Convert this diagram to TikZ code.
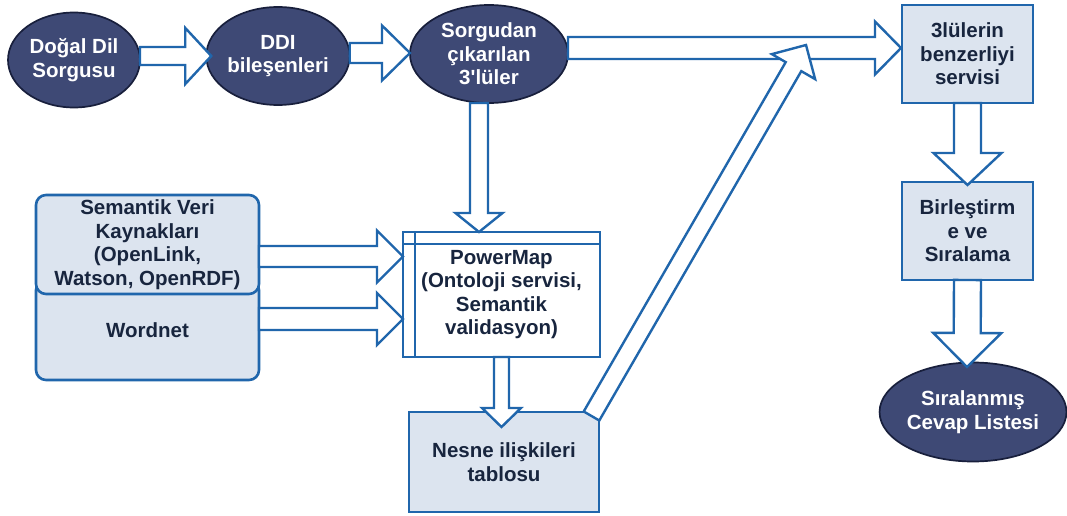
\documentclass[tikz,border=0pt]{standalone}
\usepackage{fontspec}
\setmainfont{Liberation Sans}
\usetikzlibrary{shapes.geometric,calc}

\definecolor{lineblue}{RGB}{32,102,172}
\definecolor{boxfill}{RGB}{220,228,239}
\definecolor{ovalfill}{RGB}{62,73,117}
\definecolor{ovalline}{RGB}{24,31,60}
\definecolor{textnavy}{RGB}{24,37,62}

% Hollow block arrow: {from}{to}{shaft half-width}{head half-width}{head length}
\newcommand\blockarrow[5]{%
  \coordinate (ba-s) at (#1);
  \coordinate (ba-e) at (#2);
  \coordinate (ba-n) at ($(ba-e)!#5!(ba-s)$);
  \draw[fatarrow] ($(ba-s)!#3!90:(ba-e)$) -- ($(ba-n)!#3!90:(ba-e)$)
    -- ($(ba-n)!#4!90:(ba-e)$) -- (ba-e) -- ($(ba-n)!#4!-90:(ba-e)$)
    -- ($(ba-n)!#3!-90:(ba-e)$) -- ($(ba-s)!#3!-90:(ba-e)$) -- cycle;
}

\tikzset{
  labelfont/.style={font=\fontsize{20.5}{23.5}\selectfont\bfseries},
  oval/.style={ellipse, draw=ovalline, line width=1.7pt, fill=ovalfill,
    text=white, inner sep=0pt, outer sep=0pt, align=center, labelfont},
  box/.style={rectangle, draw=lineblue, line width=2.6pt, fill=boxfill,
    text=textnavy, inner sep=0pt, outer sep=0pt, align=center, labelfont},
  roundbox/.style={box, rounded corners=10pt},
  fatarrow/.style={draw=lineblue, line width=2.4pt, fill=white, line join=miter}
}

\begin{document}
\begin{tikzpicture}[x=1pt, y=-1pt]
\path[use as bounding box, fill=white] (0,0) rectangle (1067,516);

% query side
\node[oval, minimum width=132pt, minimum height=95pt] (e1) at (74,60) {Doğal Dil\\Sorgusu};
\node[oval, minimum width=130pt, minimum height=98pt] (e2) at (278,56) {DDI\\bileşenleri};
\node[oval, minimum width=158pt, minimum height=98pt] (e3) at (489,54)
  {Sorgudan\\çıkarılan\\3\textquotesingle lüler};

% semantic sources
\node[roundbox, minimum width=223pt, minimum height=100pt] (word) at (147.5,330) {Wordnet};
\node[roundbox, minimum width=223pt, minimum height=99pt] (sem) at (147.5,244.5)
  {Semantik Veri\\Kaynakları\\(OpenLink,\\Watson, OpenRDF)};

% PowerMap with its header and side strips
\node[box, fill=white, minimum width=197pt, minimum height=125pt] (pm) at (501.5,294.5)
  {PowerMap\\(Ontoloji servisi,\\Semantik\\validasyon)};
\draw[lineblue, line width=2.4pt] ($(pm.north west)+(12,0)$) -- ($(pm.south west)+(12,0)$);
\draw[lineblue, line width=2.4pt] ($(pm.north west)+(0,12)$) -- ($(pm.north east)+(0,12)$);

\node[box, minimum width=190pt, minimum height=100pt] (nesne) at (504,462) {Nesne ilişkileri\\tablosu};

% right column
\node[box, minimum width=131pt, minimum height=98pt] (b1) at (967.5,54) {3lülerin\\benzerliyi\\servisi};
\node[box, minimum width=131pt, minimum height=98pt] (b2) at (967.5,231) {Birleştirm\\e ve\\Sıralama};
\node[oval, minimum width=173pt, minimum height=99pt] (e4) at (973,412) {Sıralanmış\\Cevap Listesi};

% flow arrows
\blockarrow{$(e1.east)+(0,-4)$}{$(e2.west)+(5,0)$}{9pt}{28pt}{26pt}
\blockarrow{$(e2.east)+(0,-3)$}{$(e3.west)+(0,-1)$}{10pt}{27.5pt}{28pt}
\blockarrow{$(e3.east)+(0,-6)$}{$(b1.west)+(-1,-6)$}{11pt}{26.5pt}{26pt}
\blockarrow{$(e3.south)+(-10,0)$}{$(pm.north)+(-22.5,0)$}{9pt}{23.5pt}{19pt}
\blockarrow{$(sem.east)+(0,12)$}{$(pm.west |- sem.east)+(0,12)$}{10.5pt}{26pt}{26pt}
\blockarrow{$(word.east)+(0,-11)$}{$(pm.west |- word.east)+(0,-11)$}{11pt}{26pt}{26pt}
\blockarrow{pm.south}{$(nesne.north)+(-2.5,15)$}{7.5pt}{19.5pt}{19pt}
\coordinate (merge) at (806,45);
\blockarrow{$(nesne.north east)+(-7.5,4)$}{merge}{9pt}{25pt}{25pt}
\blockarrow{b1.south}{$(b2.north)+(0,3)$}{13.5pt}{34pt}{32pt}
\blockarrow{b2.south}{$(e4.north)+(-6,4.5)$}{13.5pt}{34pt}{34pt}
\end{tikzpicture}
\end{document}
